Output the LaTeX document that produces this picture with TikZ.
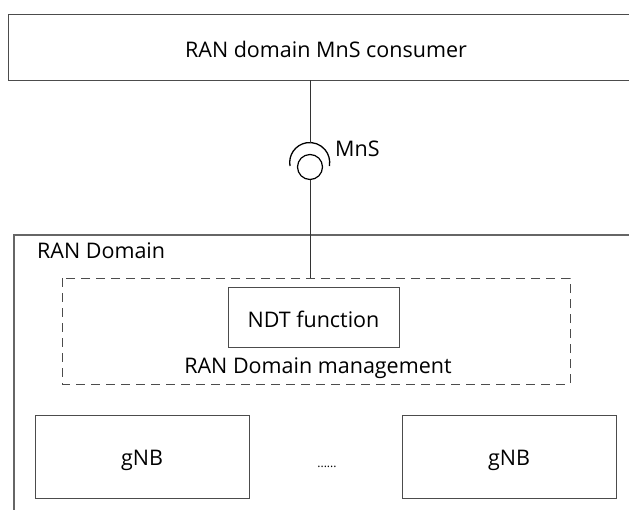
\documentclass[tikz,border=0pt]{standalone}
\usepackage{fontspec}
\setmainfont{Open Sans}
\begin{document}
\begin{tikzpicture}[x=1pt,y=-1pt,
  box/.style={draw=black!70,line width=0.9pt,fill=white,inner sep=0pt},
  lbl/.style={font=\fontsize{21.5}{24}\selectfont,inner sep=0pt,anchor=base}]
\useasboundingbox (0,0) rectangle (629,509);
\path[clip] (0,0) rectangle (629,509);
% consumer box
\draw[draw=black!70,line width=0.9pt] (8,14) rectangle (640,80);
\node[lbl] (cons) at (326,57) {RAN domain MnS consumer};
\coordinate (consb) at (310,80);
% outer RAN domain box
\draw[draw=black!60,line width=1.2pt] (14,235) rectangle (640,520);
\node[lbl,anchor=base west] (dom) at (37,258) {RAN Domain};
% dashed management box
\draw[draw=black!70,line width=0.9pt,dash pattern=on 9pt off 6pt] (62,278) rectangle (570,384);
\node[lbl] (mgmt) at (318,373) {RAN Domain management};
% NDT function
\node[box,minimum width=171pt,minimum height=60pt] (ndt) at (313.5,317) {};
\node[lbl] at (313.5,327) {NDT function};
% gNBs
\node[box,minimum width=214pt,minimum height=83pt] (g1) at (142,456.5) {};
\node[lbl] at (142,465) {gNB};
\node[box,minimum width=214pt,minimum height=83pt] (g2) at (509,456.5) {};
\node[lbl] at (509,465) {gNB};
\node[font=\fontsize{12}{14}\selectfont,inner sep=0pt,anchor=base] (dots) at (327,467) {......};
% MnS interface
\coordinate (arc) at (310,143);
\node[circle,draw=black,line width=1.2pt,minimum size=25pt,inner sep=0pt] (mns) at (310,167) {};
\draw[line width=1.3pt] (290,166) arc[start angle=170,end angle=370,radius=20];
\draw[draw=black!80,line width=0.9pt] (consb) -- (arc);
\draw[draw=black!80,line width=0.9pt] (mns.south) -- (310,278);
\node[lbl,anchor=base west] (mnslbl) at (335,156) {MnS};
\end{tikzpicture}
\end{document}
